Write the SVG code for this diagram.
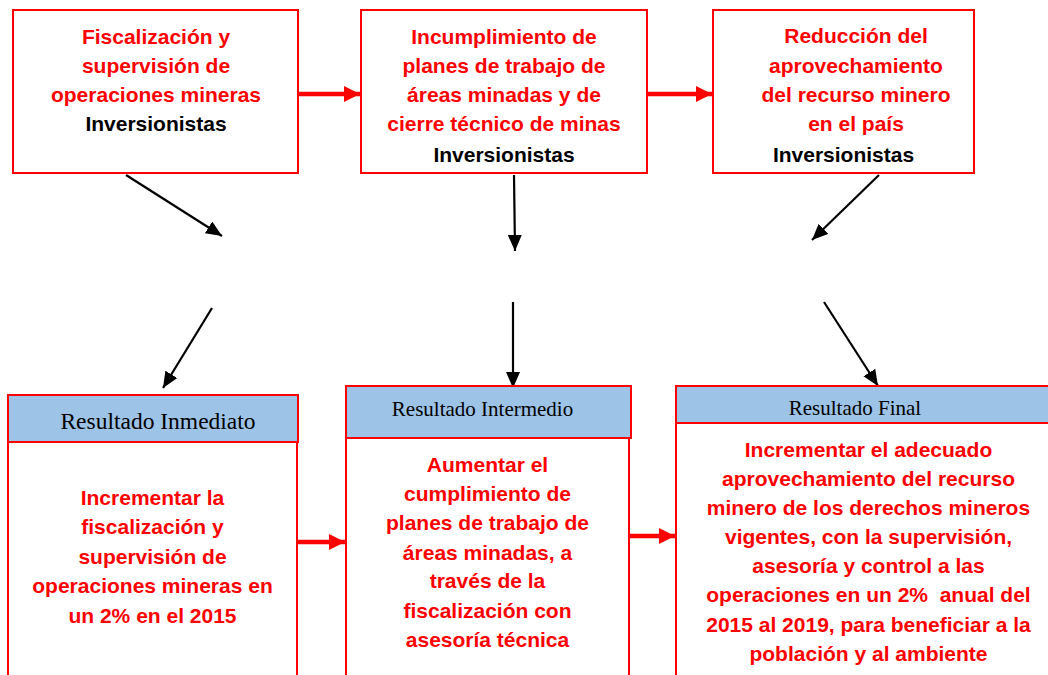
<svg xmlns="http://www.w3.org/2000/svg" width="1048" height="675" viewBox="0 0 1048 675">
<defs>
<marker id="ab" markerUnits="userSpaceOnUse" markerWidth="17" markerHeight="15" refX="16" refY="7" orient="auto"><path d="M0,0 L16,7 L0,14 z" fill="#000"/></marker>
<marker id="ar" markerUnits="userSpaceOnUse" markerWidth="18" markerHeight="18" refX="16" refY="8" orient="auto"><path d="M0,0 L16,8 L0,16 z" fill="#f00"/></marker>
<style>
.box{fill:#fff;stroke:#f00;stroke-width:2}
.hdr{fill:#9dc3e6;stroke:#f00;stroke-width:2}
.t{font-family:"Liberation Sans",Arial,sans-serif;font-weight:bold;font-size:21px;text-anchor:middle;fill:#f00}
.k{fill:#000}
.h{font-family:"Liberation Serif","Times New Roman",serif;text-anchor:middle;fill:#000}
.cb{stroke:#000;stroke-width:2.2;fill:none;marker-end:url(#ab)}
.cr{stroke:#f00;stroke-width:4.5;fill:none;marker-end:url(#ar)}
</style>
</defs>
<rect width="1048" height="675" fill="#fff"/>
<g id="connectors">
<line class="cr" x1="298" y1="94" x2="360" y2="94"/>
<line class="cr" x1="647" y1="94" x2="712" y2="94"/>
<line class="cr" x1="297" y1="542" x2="345" y2="542"/>
<line class="cr" x1="629" y1="536" x2="675" y2="536"/>
<line class="cb" x1="126" y1="175" x2="222" y2="236"/>
<line class="cb" x1="514" y1="175" x2="515" y2="251"/>
<line class="cb" x1="879" y1="175" x2="812" y2="240"/>
<line class="cb" x1="212" y1="308" x2="163" y2="388"/>
<line class="cb" x1="513" y1="302" x2="513" y2="388"/>
<line class="cb" x1="824" y1="302" x2="878" y2="386"/>
</g>
<g id="n1">
<rect class="box" x="13" y="10" width="285" height="163"/>
<text class="t" x="156" y="44">Fiscalización y</text>
<text class="t" x="156" y="73">supervisión de</text>
<text class="t" x="156" y="102">operaciones mineras</text>
<text class="t k" x="156" y="131">Inversionistas</text>
</g>
<g id="n2">
<rect class="box" x="361" y="10" width="286" height="163"/>
<text class="t" x="504" y="44">Incumplimiento de</text>
<text class="t" x="504" y="73">planes de trabajo de</text>
<text class="t" x="504" y="102">áreas minadas y de</text>
<text class="t" x="504" y="131">cierre técnico de minas</text>
<text class="t k" x="504" y="162">Inversionistas</text>
</g>
<g id="n3">
<rect class="box" x="713" y="10" width="261" height="163"/>
<text class="t" x="856" y="43">Reducción del</text>
<text class="t" x="856" y="73">aprovechamiento</text>
<text class="t" x="856" y="102">del recurso minero</text>
<text class="t" x="856" y="131">en el país</text>
<text class="t k" x="843.5" y="162">Inversionistas</text>
</g>
<g id="n4">
<rect class="box" x="8" y="442" width="289" height="250"/>
<rect class="hdr" x="8" y="395" width="290" height="47"/>
<text class="h" x="158" y="429" font-size="23.5">Resultado Inmediato</text>
<text class="t" x="152.5" y="505">Incrementar la</text>
<text class="t" x="152.5" y="534">fiscalización y</text>
<text class="t" x="152.5" y="564">supervisión de</text>
<text class="t" x="152.5" y="593">operaciones mineras en</text>
<text class="t" x="152.5" y="623">un 2% en el 2015</text>
</g>
<g id="n5">
<rect class="box" x="346" y="438" width="283" height="250"/>
<rect class="hdr" x="346" y="386" width="285" height="52"/>
<text class="h" x="482.5" y="416" font-size="21">Resultado Intermedio</text>
<text class="t" x="487.5" y="472">Aumentar el</text>
<text class="t" x="487.5" y="501">cumplimiento de</text>
<text class="t" x="487.5" y="530">planes de trabajo de</text>
<text class="t" x="487.5" y="560">áreas minadas, a</text>
<text class="t" x="487.5" y="588">través de la</text>
<text class="t" x="487.5" y="618">fiscalización con</text>
<text class="t" x="487.5" y="647">asesoría técnica</text>
</g>
<g id="n6">
<rect class="box" x="676" y="423" width="384" height="270"/>
<rect class="hdr" x="676" y="386" width="384" height="37"/>
<text class="h" x="855" y="415" font-size="21">Resultado Final</text>
<text class="t" x="868.5" y="457">Incrementar el adecuado</text>
<text class="t" x="868.5" y="486">aprovechamiento del recurso</text>
<text class="t" x="868.5" y="515">minero de los derechos mineros</text>
<text class="t" x="868.5" y="544">vigentes, con la supervisión,</text>
<text class="t" x="868.5" y="573">asesoría y control a las</text>
<text class="t" x="868.5" y="602" xml:space="preserve">operaciones en un 2%  anual del</text>
<text class="t" x="868.5" y="632">2015 al 2019, para beneficiar a la</text>
<text class="t" x="868.5" y="661">población y al ambiente</text>
</g>
</svg>
